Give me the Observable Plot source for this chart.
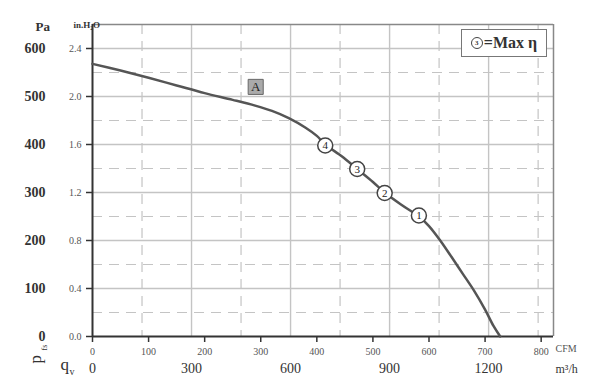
<!DOCTYPE html>
<html>
<head>
<meta charset="utf-8">
<script src="https://cdn.jsdelivr.net/npm/d3@7"></script>
<script src="https://cdn.jsdelivr.net/npm/@observablehq/plot@0.6"></script>
<style>
  html, body { margin: 0; padding: 0; background: #fff; }
  #wrap { position: relative; width: 600px; height: 388px; font-family: "Liberation Serif", serif; }
  #legend { position: absolute; left: 461px; top: 29px; width: 84px; height: 26px; border: 1.5px solid #777;
            background: #fff; display: flex; align-items: center; justify-content: center; gap: 1px;
            font-size: 16px; font-weight: bold; color: #333; }
  #legend .c { display: inline-block; width: 10px; height: 10px; border: 1.5px solid #444; border-radius: 50%;
               font-size: 7px; line-height: 10px; text-align: center; font-weight: bold; }
</style>
</head>
<body>
<div id="wrap"><div id="legend"><span class="c">3</span><span>=Max η</span></div></div>
<script>
// ---- data ----
const curveCFM = [0, 50, 100, 150, 200, 250, 290, 320, 350, 380, 400, 415, 445, 472, 500, 521, 550, 582, 600, 620, 640, 660, 680, 700, 715, 727];
const curvePa  = [568, 554, 539, 523, 507, 493, 481, 470, 455, 435, 418, 400, 375, 349, 322, 300, 275, 250, 230, 200, 166, 131, 96, 56, 22, 0];
const pointLabels = ["4", "3", "2", "1"];
const pointCFM = [415, 472, 521, 582];
const pointPa  = [398, 349, 299, 252];
const curveName = ["A"];
const curveNameCFM = [291];
const curveNamePa = [520];
const paTicks = [0, 100, 200, 300, 400, 500, 600];
const inH2OLabels = ["0.0", "0.4", "0.8", "1.2", "1.6", "2.0", "2.4"];
const cfmTicks = [0, 100, 200, 300, 400, 500, 600, 700, 800];
const m3hTicks = [0, 300, 600, 900, 1200];
const gridSolidM3h = [300, 600, 900, 1200];
const gridDashedM3h = [150, 450, 750, 1050, 1350];
const gridSolidPa = [100, 200, 300, 400, 500, 600];
const gridDashedPa = [50, 150, 250, 350, 450, 550];
const M3H_PER_CFM = 1.699;

const curve = curveCFM.map((c, i) => ({cfm: c, pa: curvePa[i]}));
const points = pointLabels.map((n, i) => ({n, cfm: pointCFM[i], pa: pointPa[i]}));
const names = curveName.map((t, i) => ({t, cfm: curveNameCFM[i], pa: curveNamePa[i]}));

const grid = "#c4c4c4";
const dark = "#333";

const chart = Plot.plot({
  width: 600, height: 388,
  marginLeft: 92, marginRight: 47, marginTop: 24, marginBottom: 52,
  x: {domain: [0, 822]},
  y: {domain: [0, 650]},
  style: {fontFamily: "Liberation Serif, serif", background: "transparent", color: dark, overflow: "visible"},
  marks: [
    Plot.ruleX(gridDashedM3h.filter(d => d / M3H_PER_CFM < 822), {x: d => d / M3H_PER_CFM, stroke: grid, strokeWidth: 1.2, strokeDasharray: "10,7"}),
    Plot.ruleY(gridDashedPa, {y: d => d, stroke: grid, strokeWidth: 1.2, strokeDasharray: "10,7"}),
    Plot.ruleX(gridSolidM3h, {x: d => d / M3H_PER_CFM, stroke: grid, strokeWidth: 1.4}),
    Plot.ruleY(gridSolidPa, {y: d => d, stroke: grid, strokeWidth: 1.4}),
    Plot.ruleY([650], {stroke: "#888", strokeWidth: 1.5}),
    Plot.ruleX([822], {stroke: "#888", strokeWidth: 1.5}),
    Plot.ruleX([0], {stroke: dark, strokeWidth: 2}),
    Plot.ruleY([0], {stroke: dark, strokeWidth: 2}),
    Plot.axisY(paTicks, {tickSize: 6, tickPadding: 5, strokeWidth: 1.5, fontSize: 10, fill: "#555",
      tickFormat: d => inH2OLabels[paTicks.indexOf(d)], label: null}),
    Plot.axisY(paTicks, {tickSize: 0, tickPadding: 47, fontSize: 14, fontWeight: "bold", fill: dark, label: null}),
    Plot.axisX(cfmTicks, {tickSize: 6, tickPadding: 5, strokeWidth: 1.5, fontSize: 10, fill: "#555", label: null}),
    Plot.text(m3hTicks, {x: d => d / M3H_PER_CFM, frameAnchor: "bottom", dy: 36, text: d => String(d), fontSize: 14, fill: dark}),
    Plot.line(curve, {x: "cfm", y: "pa", stroke: "#555", strokeWidth: 2.5, curve: "catmull-rom"}),
    Plot.dot(names, {x: "cfm", y: "pa", symbol: "square", r: 8.5, fill: "#aaa", stroke: "#666", strokeWidth: 1}),
    Plot.text(names, {x: "cfm", y: "pa", text: "t", fontSize: 13, fill: "#222"}),
    Plot.dot(points, {x: "cfm", y: "pa", r: 7.5, fill: "white", stroke: "#444", strokeWidth: 1.5}),
    Plot.text(points, {x: "cfm", y: "pa", text: "n", fontSize: 11, fill: "#222"}),
    // axis titles
    Plot.text(["Pa"], {frameAnchor: "top-left", dx: -57, dy: -3, fontSize: 13, fontWeight: "bold", fill: dark}),
    Plot.text(["in.H₂O"], {frameAnchor: "top-left", dx: -19, dy: -3, fontSize: 9, fontWeight: "bold", fill: dark}),
    Plot.text(["CFM"], {frameAnchor: "bottom-right", dx: 2, dy: 15, textAnchor: "start", fontSize: 10, fill: "#555"}),
    Plot.text(["m³/h"], {frameAnchor: "bottom-right", dx: 2, dy: 36, textAnchor: "start", fontSize: 12, fill: dark}),
    Plot.text(["q"], {frameAnchor: "bottom-left", dx: -32, dy: 33, textAnchor: "start", fontSize: 17, fill: dark}),
    Plot.text(["v"], {frameAnchor: "bottom-left", dx: -23, dy: 38, textAnchor: "start", fontSize: 10, fill: dark}),
    Plot.text(["p"], {frameAnchor: "bottom-left", dx: -52, dy: 27, rotate: -90, fontSize: 17, fill: dark}),
    Plot.text(["fs"], {frameAnchor: "bottom-left", dx: -46, dy: 14, rotate: -90, fontSize: 8, fill: dark})
  ]
});
document.getElementById("wrap").prepend(chart);
</script>
</body>
</html>
